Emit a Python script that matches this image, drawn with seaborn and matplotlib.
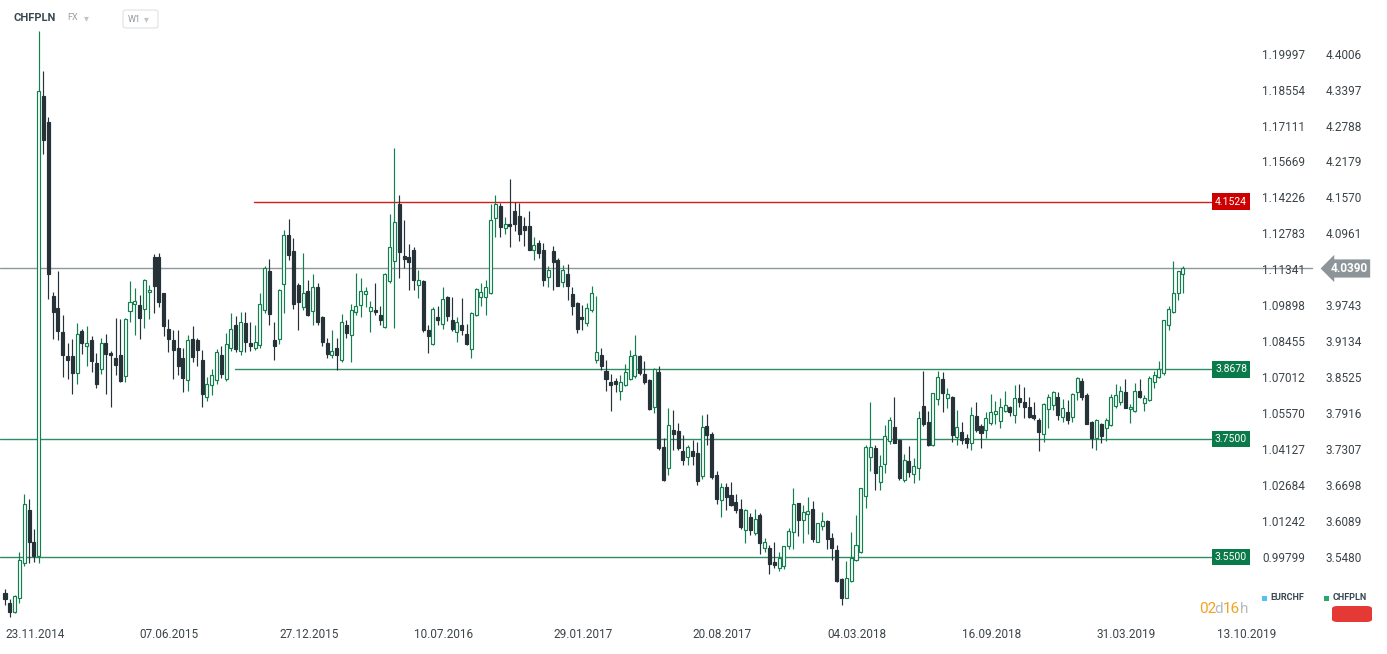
import numpy as np
import pandas as pd
import matplotlib
matplotlib.use("Agg")
import matplotlib.pyplot as plt
import matplotlib.dates as mdates
import matplotlib.transforms as mtransforms
from matplotlib.patches import FancyBboxPatch, Rectangle
import seaborn as sns

# weekly CHFPLN candles, first week starting 23.11.2014
start = "2014-11-23"
opens = [3.489, 3.472, 3.457, 3.481, 3.539, 3.630, 3.576, 3.551, 4.332, 4.288,
         3.992, 3.972, 3.931, 3.890, 3.890, 3.862, 3.933, 3.907, 3.917, 3.879,
         3.868, 3.913, 3.896, 3.887, 3.893, 3.857, 3.967, 3.978, 3.977, 3.971,
         3.999, 4.058, 4.058, 3.997, 3.936, 3.917, 3.905, 3.888, 3.850, 3.920,
         3.918, 3.884, 3.822, 3.841, 3.850, 3.893, 3.851, 3.904, 3.943, 3.899,
         3.946, 3.912, 3.904, 3.910, 3.969, 4.034, 3.917, 3.919, 4.013, 4.095,
         4.068, 4.011, 3.973, 4.000, 3.967, 4.007, 3.957, 3.912, 3.893, 3.905,
         3.884, 3.943, 3.927, 3.965, 3.977, 3.996, 3.967, 3.969, 3.961, 3.940,
         4.017, 4.051, 4.149, 4.060, 4.058, 4.071, 4.011, 4.017, 3.934, 3.911,
         3.956, 3.945, 3.990, 3.952, 3.932, 3.943, 3.928, 3.903, 3.961, 3.991,
         3.991, 3.997, 4.125, 4.145, 4.108, 4.115, 4.137, 4.128, 4.111, 4.111,
         4.070, 4.082, 4.070, 4.025, 4.068, 4.054, 4.016, 4.029, 3.995, 3.981,
         3.957, 3.947, 3.969, 3.884, 3.892, 3.866, 3.846, 3.849, 3.832, 3.842,
         3.852, 3.857, 3.890, 3.860, 3.850, 3.805, 3.863, 3.736, 3.700, 3.765,
         3.764, 3.729, 3.719, 3.729, 3.727, 3.687, 3.772, 3.758, 3.689, 3.647,
         3.668, 3.655, 3.643, 3.631, 3.596, 3.617, 3.591, 3.621, 3.566, 3.565,
         3.541, 3.531, 3.535, 3.568, 3.592, 3.641, 3.612, 3.623, 3.631, 3.576,
         3.603, 3.611, 3.582, 3.562, 3.513, 3.481, 3.510, 3.545, 3.559, 3.654,
         3.720, 3.734, 3.677, 3.707, 3.747, 3.770, 3.748, 3.681, 3.713, 3.690,
         3.700, 3.806, 3.778, 3.740, 3.817, 3.851, 3.819, 3.821, 3.753, 3.762,
         3.751, 3.744, 3.789, 3.772, 3.766, 3.777, 3.793, 3.781, 3.798, 3.804,
         3.791, 3.819, 3.812, 3.804, 3.791, 3.783, 3.758, 3.801, 3.808, 3.822,
         3.788, 3.795, 3.788, 3.829, 3.849, 3.825, 3.778, 3.752, 3.775, 3.768,
         3.773, 3.806, 3.812, 3.829, 3.800, 3.797, 3.832, 3.811, 3.816, 3.847,
         3.855, 3.862, 3.943, 3.965, 3.998, 4.030]
highs = [3.495, 3.479, 3.486, 3.558, 3.657, 3.649, 3.598, 4.441, 4.373, 4.295,
         4.000, 4.034, 3.960, 3.913, 3.920, 3.947, 3.936, 3.941, 3.925, 3.896,
         3.922, 3.928, 3.900, 3.955, 3.954, 3.955, 4.018, 4.006, 3.994, 4.021,
         4.011, 4.064, 4.065, 3.998, 3.954, 3.934, 3.935, 3.904, 3.927, 3.942,
         3.922, 3.901, 3.855, 3.869, 3.903, 3.907, 3.930, 3.964, 3.958, 3.965,
         3.965, 3.949, 3.944, 3.998, 4.043, 4.055, 3.949, 4.005, 4.105, 4.123,
         4.091, 4.015, 4.066, 4.020, 4.030, 4.015, 3.958, 3.921, 3.935, 3.921,
         3.962, 3.952, 3.979, 4.032, 4.023, 4.008, 3.984, 4.015, 3.975, 4.032,
         4.131, 4.244, 4.164, 4.121, 4.080, 4.075, 4.036, 4.020, 3.943, 3.973,
         3.975, 4.007, 3.992, 3.990, 3.956, 3.989, 3.945, 3.966, 4.006, 4.015,
         4.020, 4.148, 4.164, 4.150, 4.126, 4.190, 4.152, 4.150, 4.126, 4.136,
         4.092, 4.088, 4.083, 4.043, 4.077, 4.056, 4.045, 4.047, 4.007, 3.982,
         3.977, 3.980, 4.010, 3.992, 3.905, 3.884, 3.860, 3.853, 3.859, 3.877,
         3.901, 3.926, 3.893, 3.883, 3.852, 3.871, 3.873, 3.751, 3.802, 3.800,
         3.777, 3.757, 3.740, 3.749, 3.745, 3.791, 3.792, 3.762, 3.696, 3.676,
         3.676, 3.677, 3.657, 3.649, 3.632, 3.625, 3.631, 3.624, 3.582, 3.570,
         3.575, 3.559, 3.569, 3.600, 3.667, 3.642, 3.638, 3.651, 3.645, 3.608,
         3.626, 3.612, 3.590, 3.570, 3.514, 3.544, 3.593, 3.621, 3.667, 3.739,
         3.812, 3.740, 3.723, 3.774, 3.788, 3.821, 3.750, 3.724, 3.738, 3.718,
         3.798, 3.865, 3.798, 3.828, 3.865, 3.863, 3.836, 3.823, 3.800, 3.779,
         3.758, 3.804, 3.813, 3.775, 3.796, 3.826, 3.815, 3.819, 3.832, 3.806,
         3.842, 3.843, 3.838, 3.821, 3.813, 3.785, 3.811, 3.826, 3.831, 3.830,
         3.817, 3.816, 3.828, 3.855, 3.853, 3.828, 3.780, 3.784, 3.777, 3.785,
         3.826, 3.843, 3.839, 3.851, 3.809, 3.845, 3.851, 3.824, 3.856, 3.865,
         3.882, 3.952, 3.975, 4.051, 4.034, 4.043]
lows = [3.468, 3.449, 3.455, 3.472, 3.534, 3.539, 3.542, 3.539, 4.233, 3.987,
        3.920, 3.918, 3.855, 3.851, 3.827, 3.843, 3.894, 3.873, 3.864, 3.837,
        3.860, 3.827, 3.804, 3.859, 3.846, 3.846, 3.949, 3.927, 3.919, 3.938,
        3.953, 3.964, 3.973, 3.925, 3.897, 3.852, 3.859, 3.829, 3.831, 3.880,
        3.874, 3.804, 3.815, 3.824, 3.844, 3.854, 3.849, 3.899, 3.898, 3.892,
        3.897, 3.900, 3.901, 3.904, 3.963, 3.943, 3.884, 3.911, 3.963, 4.054,
        3.970, 3.935, 3.969, 3.959, 3.943, 3.943, 3.908, 3.887, 3.888, 3.867,
        3.881, 3.921, 3.880, 3.961, 3.957, 3.973, 3.931, 3.961, 3.944, 3.938,
        4.014, 3.938, 4.023, 4.040, 4.002, 4.002, 3.989, 3.931, 3.896, 3.910,
        3.944, 3.936, 3.950, 3.933, 3.915, 3.926, 3.909, 3.888, 3.958, 3.975,
        3.961, 3.995, 4.093, 4.093, 4.097, 4.075, 4.103, 4.085, 4.077, 4.070,
        4.053, 4.056, 4.009, 4.007, 4.003, 4.009, 4.007, 3.986, 3.961, 3.930,
        3.935, 3.942, 3.966, 3.879, 3.867, 3.832, 3.797, 3.830, 3.816, 3.840,
        3.850, 3.853, 3.858, 3.843, 3.799, 3.794, 3.731, 3.678, 3.689, 3.731,
        3.731, 3.706, 3.706, 3.706, 3.672, 3.683, 3.740, 3.682, 3.640, 3.617,
        3.629, 3.636, 3.624, 3.598, 3.573, 3.587, 3.587, 3.555, 3.559, 3.522,
        3.531, 3.527, 3.530, 3.564, 3.564, 3.586, 3.573, 3.589, 3.576, 3.575,
        3.596, 3.564, 3.545, 3.508, 3.468, 3.480, 3.508, 3.544, 3.557, 3.633,
        3.696, 3.664, 3.664, 3.692, 3.741, 3.743, 3.681, 3.677, 3.685, 3.675,
        3.681, 3.772, 3.738, 3.738, 3.808, 3.795, 3.802, 3.745, 3.740, 3.741,
        3.734, 3.732, 3.762, 3.734, 3.751, 3.774, 3.775, 3.768, 3.795, 3.789,
        3.777, 3.805, 3.785, 3.786, 3.783, 3.730, 3.745, 3.768, 3.799, 3.782,
        3.778, 3.776, 3.778, 3.816, 3.816, 3.775, 3.735, 3.732, 3.743, 3.746,
        3.772, 3.803, 3.808, 3.802, 3.777, 3.796, 3.819, 3.797, 3.815, 3.837,
        3.854, 3.859, 3.934, 3.963, 3.986, 3.998]
closes = [3.478, 3.457, 3.484, 3.545, 3.639, 3.576, 3.551, 4.340, 4.257, 4.030,
          3.966, 3.933, 3.892, 3.884, 3.862, 3.928, 3.912, 3.913, 3.883, 3.843,
          3.913, 3.894, 3.892, 3.875, 3.849, 3.954, 3.982, 3.984, 3.955, 4.020,
          4.003, 4.009, 3.982, 3.941, 3.919, 3.901, 3.874, 3.853, 3.918, 3.889,
          3.900, 3.826, 3.843, 3.859, 3.897, 3.860, 3.911, 3.937, 3.903, 3.949,
          3.914, 3.907, 3.915, 3.978, 4.039, 3.962, 3.908, 4.002, 4.095, 4.062,
          3.978, 3.982, 3.998, 3.961, 4.008, 3.949, 3.914, 3.894, 3.899, 3.892,
          3.949, 3.929, 3.969, 3.975, 4.000, 4.000, 3.973, 3.965, 3.952, 4.030,
          4.075, 4.117, 4.067, 4.055, 4.050, 4.020, 4.020, 3.934, 3.925, 3.971,
          3.951, 3.988, 3.959, 3.937, 3.948, 3.934, 3.911, 3.964, 4.005, 3.999,
          4.007, 4.122, 4.149, 4.109, 4.114, 4.111, 4.114, 4.097, 4.105, 4.071,
          4.079, 4.066, 4.020, 4.037, 4.050, 4.009, 4.037, 4.010, 3.976, 3.937,
          3.954, 3.972, 3.998, 3.898, 3.874, 3.852, 3.842, 3.843, 3.846, 3.864,
          3.890, 3.892, 3.862, 3.847, 3.801, 3.868, 3.734, 3.681, 3.774, 3.758,
          3.734, 3.714, 3.736, 3.721, 3.679, 3.770, 3.756, 3.686, 3.649, 3.668,
          3.651, 3.638, 3.629, 3.600, 3.629, 3.595, 3.614, 3.573, 3.575, 3.538,
          3.536, 3.548, 3.569, 3.594, 3.640, 3.612, 3.626, 3.628, 3.581, 3.607,
          3.611, 3.580, 3.565, 3.510, 3.481, 3.515, 3.549, 3.570, 3.667, 3.736,
          3.736, 3.693, 3.704, 3.755, 3.783, 3.744, 3.684, 3.715, 3.694, 3.705,
          3.785, 3.775, 3.740, 3.828, 3.855, 3.828, 3.826, 3.757, 3.771, 3.748,
          3.743, 3.790, 3.765, 3.761, 3.785, 3.795, 3.798, 3.804, 3.807, 3.795,
          3.819, 3.812, 3.805, 3.788, 3.785, 3.762, 3.810, 3.821, 3.829, 3.791,
          3.803, 3.782, 3.826, 3.853, 3.822, 3.776, 3.752, 3.782, 3.755, 3.783,
          3.821, 3.825, 3.831, 3.803, 3.805, 3.831, 3.822, 3.819, 3.854, 3.859,
          3.868, 3.951, 3.971, 3.998, 4.034, 4.039]

date_labels = ["23.11.2014", "07.06.2015", "27.12.2015", "10.07.2016", "29.01.2017",
               "20.08.2017", "04.03.2018", "16.09.2018", "31.03.2019", "13.10.2019"]
chfpln_ticks = [4.4006, 4.3397, 4.2788, 4.2179, 4.1570, 4.0961, 4.0352, 3.9743,
                3.9134, 3.8525, 3.7916, 3.7307, 3.6698, 3.6089, 3.5480]
eurchf_ticks = ["1.19997", "1.18554", "1.17111", "1.15669", "1.14226", "1.12783",
                "1.11341", "1.09898", "1.08455", "1.07012", "1.05570", "1.04127",
                "1.02684", "1.01242", "0.99799"]
resistance = 4.1524
supports = [3.8678, 3.7500, 3.5500]
last_price = 4.0390

sns.set_style("white")
plt.rcParams["font.family"] = ["Roboto", "DejaVu Sans"]

df = pd.DataFrame({"date": pd.date_range(start, periods=len(closes), freq="7D"),
                   "open": opens, "high": highs, "low": lows, "close": closes})
df["x"] = mdates.date2num(df["date"])
df["up"] = df["close"] >= df["open"]

GREEN = "#137f4e"
DARK = "#263238"
W, H = 1387, 654

fig = plt.figure(figsize=(W / 100, H / 100), dpi=100)
fig.patch.set_facecolor("white")
ax = fig.add_axes([0, 0, 1, 1])
ax.set_axis_off()

x0 = df["x"].iloc[0]
ax.set_xlim(x0 - 7.28, x0 + 2012.1)
ax.set_ylim(3.5500 - 97 / 590, 3.5500 + 557 / 590)

# level lines
ax.axhline(resistance, xmin=254 / W, xmax=1211 / W, color="#d81b1b", lw=1.0, zorder=1)
ax.axhline(supports[0], xmin=235 / W, xmax=1211 / W, color="#2e8c64", lw=1.0, zorder=1)
ax.axhline(supports[1], xmin=0, xmax=1211 / W, color="#2e8c64", lw=1.0, zorder=1)
ax.axhline(supports[2], xmin=0, xmax=1211 / W, color="#2e8c64", lw=1.0, zorder=1)
ax.axhline(last_price, xmin=0, xmax=1312 / W, color="#8e979a", lw=1.0, zorder=1)

# candles
edge = np.where(df["up"], GREEN, DARK)
face = np.where(df["up"], "white", DARK)
ax.vlines(df["x"], df["low"], df["high"], colors=edge, lw=0.85, zorder=2)
body = (df["close"] - df["open"]).abs().clip(lower=0.0015)
ax.bar(df["x"], body, bottom=df[["open", "close"]].min(axis=1), width=4.4,
       color=face, edgecolor=edge, linewidth=0.85, zorder=3)

# right price labels (the one under the current price tag is hidden)
ty = mtransforms.blended_transform_factory(ax.transAxes, ax.transData)
for v, e in zip(chfpln_ticks, eurchf_ticks):
    ax.text(1305 / W, v, e, transform=ty, ha="right", va="center",
            fontsize=8.5, color="#3c4449")
    if abs(v - last_price) > 0.01:
        ax.text(1326 / W, v, f"{v:.4f}", transform=ty, ha="left", va="center",
                fontsize=8.5, color="#3c4449")

# level tags
ax.text(1231 / W, resistance, f"{resistance:.4f}", transform=ty, ha="center",
        va="center", fontsize=7.5, color="white",
        bbox=dict(boxstyle="square,pad=0.3", fc="#cc0000", ec="none"))
for s in supports:
    ax.text(1231 / W, s, f"{s:.4f}", transform=ty, ha="center", va="center",
            fontsize=7.5, color="white",
            bbox=dict(boxstyle="square,pad=0.3", fc="#0b7a4b", ec="none"))
ax.text(1349 / W, last_price, f"{last_price:.4f}", transform=ty, ha="center",
        va="center", fontsize=8.5, fontweight="bold", color="white", zorder=6,
        bbox=dict(boxstyle="larrow,pad=0.22", fc="#8d9599", ec="none"))

# date labels
tx = mtransforms.blended_transform_factory(ax.transData, ax.transAxes)
for i, lab in enumerate(date_labels):
    d = mdates.date2num(pd.to_datetime(lab, format="%d.%m.%Y"))
    tr = tx
    if i == len(date_labels) - 1:
        tr = tx + mtransforms.ScaledTranslation(-14 / 100, 0, fig.dpi_scale_trans)
    ax.text(d, 1 - 634 / H, lab, transform=tr, ha="left", va="center",
            fontsize=8.5, color="#3c4449")

# header
fig.text(14 / W, 1 - 18 / H, "CHFPLN", fontsize=8, fontweight="bold",
         color="#37474f", va="center")
fig.text(67 / W, 1 - 18 / H, "FX", fontsize=6.5, color="#9aa0a6", va="center")
fig.text(84 / W, 1 - 18 / H, "\u25be", fontsize=7, color="#c0c5c9", va="center")
fig.patches.append(FancyBboxPatch((123 / W, 1 - 28 / H), 35 / W, 18 / H,
                                  boxstyle="round,pad=0,rounding_size=0.003",
                                  transform=fig.transFigure, fc="white",
                                  ec="#dde1e4", lw=0.8))
fig.text(128 / W, 1 - 19 / H, "W1", fontsize=6.5, color="#90979c", va="center")
fig.text(144 / W, 1 - 19 / H, "\u25be", fontsize=7, color="#c0c5c9", va="center")

# bottom-right legend and timer
fig.patches.append(Rectangle((1262 / W, 1 - 601 / H), 5 / W, 5 / H,
                             transform=fig.transFigure, fc="#4fc3f7", ec="none"))
fig.text(1270 / W, 1 - 598 / H, "EURCHF", fontsize=6.5, fontweight="bold",
         color="#37474f", va="center")
fig.patches.append(Rectangle((1324 / W, 1 - 601 / H), 5 / W, 5 / H,
                             transform=fig.transFigure, fc="#26a96c", ec="none"))
fig.text(1333 / W, 1 - 598 / H, "CHFPLN", fontsize=6.5, fontweight="bold",
         color="#37474f", va="center")
for s, xp, c in [("02", 1199, "#f5a21b"), ("d", 1214, "#b5bbbf"),
                 ("16", 1223, "#f5a21b"), ("h", 1240, "#b5bbbf")]:
    fig.text(xp / W, 1 - 609 / H, s, fontsize=11, color=c, va="center")
fig.patches.append(FancyBboxPatch((1332 / W, 1 - 622 / H), 40 / W, 16 / H,
                                  boxstyle="round,pad=0,rounding_size=0.004",
                                  transform=fig.transFigure, fc="#e53935",
                                  ec="none"))

fig.savefig("out.png", dpi=100)
